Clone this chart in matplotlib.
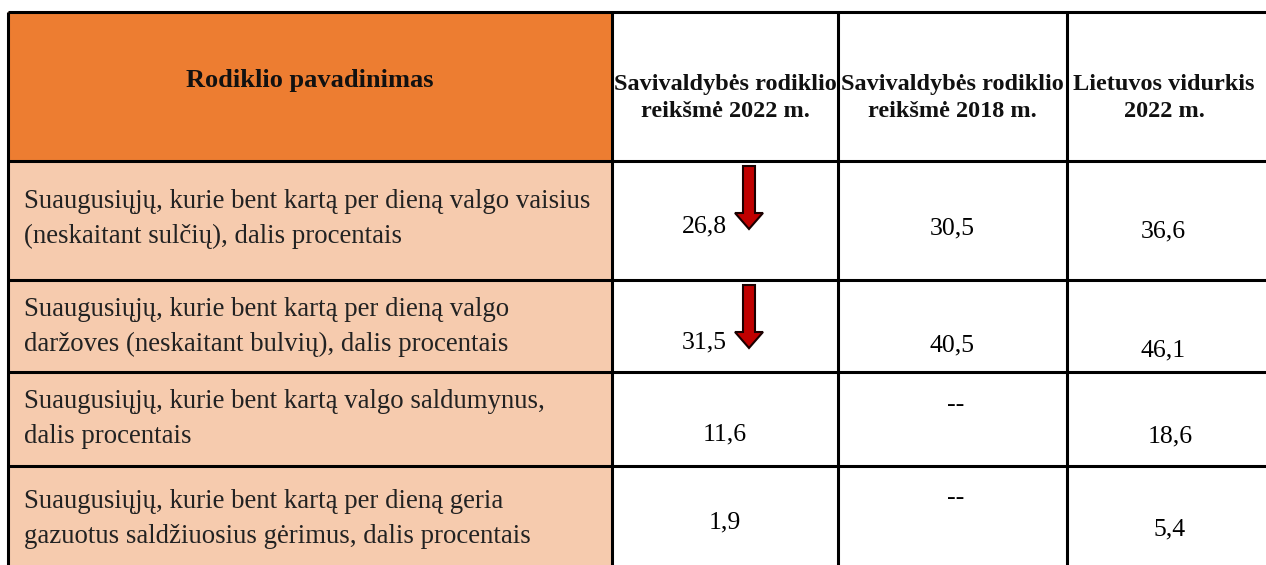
import matplotlib
matplotlib.use('Agg')
import matplotlib.pyplot as plt
from matplotlib.patches import Rectangle, FancyArrow

# table content
header = ["Rodiklio pavadinimas",
          "Savivaldybės rodiklio\nreikšmė 2022 m.",
          "Savivaldybės rodiklio\nreikšmė 2018 m.",
          "Lietuvos vidurkis\n2022 m."]
indicators = [
    "Suaugusiųjų, kurie bent kartą per dieną valgo vaisius\n(neskaitant sulčių), dalis procentais",
    "Suaugusiųjų, kurie bent kartą per dieną valgo\ndaržoves (neskaitant bulvių), dalis procentais",
    "Suaugusiųjų, kurie bent kartą valgo saldumynus,\ndalis procentais",
    "Suaugusiųjų, kurie bent kartą per dieną geria\ngazuotus saldžiuosius gėrimus, dalis procentais",
]
val_2022 = ["26,8", "31,5", "11,6", "1,9"]
val_2018 = ["30,5", "40,5", "--", "--"]
lt_avg_2022 = ["36,6", "46,1", "18,6", "5,4"]
worse = [True, True, False, False]

# layout (pixels)
W, H = 1266, 565
col_x = [8, 612, 838, 1067, 1275]
row_y = [12, 161, 280, 372, 466, 575]

fig = plt.figure(figsize=(W / 100, H / 100), dpi=100)
ax = fig.add_axes([0, 0, 1, 1])
ax.set_xlim(0, W)
ax.set_ylim(H, 0)
ax.axis('off')

serif = 'Liberation Serif'
orange = '#ED7D31'
peach = '#F6CBAE'

# backgrounds
ax.add_patch(Rectangle((col_x[0], row_y[0]), col_x[1] - col_x[0], row_y[1] - row_y[0],
                       facecolor=orange, edgecolor='none'))
ax.add_patch(Rectangle((col_x[0], row_y[1]), col_x[1] - col_x[0], row_y[-1] - row_y[1],
                       facecolor=peach, edgecolor='none'))

# grid lines
for y in row_y[:-1]:
    ax.plot([col_x[0], W + 10], [y, y], color='black', lw=2.2, solid_capstyle='butt')
for x in col_x[:-1]:
    ax.plot([x, x], [row_y[0], H + 10], color='black', lw=2.2, solid_capstyle='butt')

# header text
ax.text((col_x[0] + col_x[1]) / 2, 80, header[0], ha='center', va='center',
        family=serif, fontsize=19, fontweight='bold', color='#111111')
hdr_cx = [725, 952, 1164]
for cx, h in zip(hdr_cx, header[1:]):
    ax.text(cx, 98, h, ha='center', va='center', family=serif, fontsize=17.5,
            fontweight='bold', linespacing=1.42, color='#111111')

# body rows
text_y = [219, 327, 419, 519]
v22_pos = [(704, 226), (704, 342), (725, 434), (725, 522)]
v18_pos = [(952, 228), (952, 345), (956, 405), (956, 498)]
lt_pos = [(1163, 231), (1163, 350), (1170, 436), (1170, 529)]

for i in range(len(indicators)):
    ax.text(24, text_y[i], indicators[i], ha='left', va='center', family=serif,
            fontsize=19.3, color='#222222', linespacing=1.48)
    ax.text(*v22_pos[i], val_2022[i], ha='center', va='center', family=serif, fontsize=18.5)
    ax.text(*v18_pos[i], val_2018[i], ha='center', va='center', family=serif, fontsize=18.5)
    ax.text(*lt_pos[i], lt_avg_2022[i], ha='center', va='center', family=serif, fontsize=18.5)
    if worse[i]:
        top = row_y[i + 1] + 5
        ax.add_patch(FancyArrow(749, top, 0, 63, width=12, head_width=28,
                                head_length=16, length_includes_head=True,
                                facecolor='#C00000', edgecolor='#1a0000', lw=1.5))

fig.savefig('out.png', dpi=100)
